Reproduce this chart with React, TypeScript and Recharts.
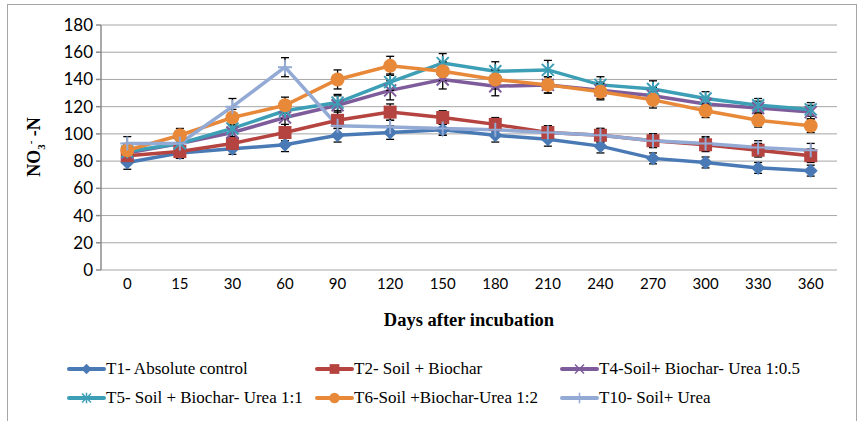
import React from 'react'
import { LineChart, Line, XAxis, YAxis, CartesianGrid, ErrorBar } from 'recharts'

const days = ['0', '15', '30', '60', '90', '120', '150', '180', '210', '240', '270', '300', '330', '360']

const t1 = [79, 86, 89, 92, 99, 101, 103, 99, 96, 91, 82, 79, 75, 73]
const t2 = [84, 87, 93, 101, 110, 116, 112, 107, 101, 99, 95, 92, 88, 84]
const t4 = [86, 93, 101, 112, 121, 132, 140, 135, 136, 132, 128, 122, 119, 116]
const t5 = [87, 93, 104, 117, 123, 138, 152, 146, 147, 136, 133, 126, 121, 118]
const t6 = [88, 99, 112, 121, 140, 150, 146, 140, 136, 131, 125, 117, 110, 106]
const t10 = [93, 93, 120, 149, 106, 105, 104, 103, 101, 99, 95, 93, 90, 88]

const e1 = [5, 4, 4, 5, 5, 5, 4, 5, 5, 5, 4, 4, 4, 4]
const e2 = [4, 5, 5, 6, 6, 6, 5, 5, 5, 5, 5, 5, 5, 5]
const e4 = [5, 5, 6, 7, 7, 7, 7, 7, 6, 6, 6, 5, 5, 5]
const e5 = [5, 5, 6, 6, 6, 6, 7, 7, 7, 6, 6, 5, 5, 5]
const e6 = [5, 5, 6, 6, 7, 7, 7, 7, 6, 6, 6, 5, 5, 5]
const e10 = [5, 5, 6, 7, 6, 5, 5, 5, 5, 5, 5, 5, 5, 5]

const data = days.map((d, i) => ({
  i, t1: t1[i], t2: t2[i], t4: t4[i], t5: t5[i], t6: t6[i], t10: t10[i],
  e1: e1[i], e2: e2[i], e4: e4[i], e5: e5[i], e6: e6[i], e10: e10[i],
}))

const idx = days.map((_, i) => i)
const edges = [...idx.map(i => i - 0.5), days.length - 0.5]
const yTicks = [0, 20, 40, 60, 80, 100, 120, 140, 160, 180]

const SERIF = '"Liberation Serif", "Times New Roman", Times, serif'
const SANS = 'Lato, "Liberation Sans", sans-serif'

const C = {
  t1: '#4a7ab5',
  t2: '#b5433f',
  t4: '#7e5c9b',
  t5: '#3d9fb6',
  t6: '#e8893a',
  t10: '#93aad5',
}

function Marker({ shape, cx, cy, color }: { shape: string; cx: number; cy: number; color: string }) {
  if (cx == null || cy == null) return null
  switch (shape) {
    case 'diamond':
      return <path d={`M${cx},${cy - 7}L${cx + 7},${cy}L${cx},${cy + 7}L${cx - 7},${cy}Z`} fill={color} />
    case 'square':
      return <rect x={cx - 6.5} y={cy - 6.5} width={13} height={13} fill={color} />
    case 'circle':
      return <circle cx={cx} cy={cy} r={7} fill={color} />
    case 'x':
      return <path d={`M${cx - 6},${cy - 6}L${cx + 6},${cy + 6}M${cx + 6},${cy - 6}L${cx - 6},${cy + 6}`} stroke={color} strokeWidth={2} />
    case 'star':
      return <path d={`M${cx - 6},${cy - 6}L${cx + 6},${cy + 6}M${cx + 6},${cy - 6}L${cx - 6},${cy + 6}M${cx},${cy - 7}L${cx},${cy + 7}`} stroke={color} strokeWidth={2} />
    case 'plus':
      return <path d={`M${cx - 7},${cy}L${cx + 7},${cy}M${cx},${cy - 7}L${cx},${cy + 7}`} stroke={color} strokeWidth={2} />
    default:
      return null
  }
}

const series = [
  { key: 't1', err: 'e1', name: 'T1- Absolute control', shape: 'diamond' },
  { key: 't2', err: 'e2', name: 'T2- Soil + Biochar', shape: 'square' },
  { key: 't4', err: 'e4', name: 'T4-Soil+ Biochar- Urea 1:0.5', shape: 'x' },
  { key: 't5', err: 'e5', name: 'T5- Soil + Biochar- Urea 1:1', shape: 'star' },
  { key: 't6', err: 'e6', name: 'T6-Soil +Biochar-Urea 1:2', shape: 'circle' },
  { key: 't10', err: 'e10', name: 'T10- Soil+ Urea', shape: 'plus' },
]

const YLabel = () => (
  <text
    transform="translate(40,147) rotate(-90)"
    textAnchor="middle"
    fontFamily={SERIF}
    fontWeight="bold"
    fontSize={18}
    fill="#000"
  >
    NO<tspan fontSize={11} dy={5}>3</tspan>
    <tspan fontSize={11} dy={-11}>-</tspan>
    <tspan dy={6}> -N</tspan>
  </text>
)

function LegendBox() {
  const cols = [67, 315, 560]
  const rows = [369, 398]
  return (
    <>
      {series.map((s, k) => {
        const color = (C as any)[s.key]
        return (
          <div
            key={s.key}
            style={{
              position: 'absolute',
              left: cols[k % 3],
              top: rows[Math.floor(k / 3)] - 10,
              height: 20,
              display: 'flex',
              alignItems: 'center',
              fontFamily: SERIF,
              fontSize: 17,
              color: '#000',
              whiteSpace: 'nowrap',
            }}
          >
            <svg width={39} height={20} style={{ display: 'block' }}>
              <line x1={2} y1={10} x2={37} y2={10} stroke={color} strokeWidth={4} strokeLinecap="round" />
              <g transform="translate(19.5,10) scale(0.75) translate(-19.5,-10)">
                <Marker shape={s.shape} cx={19.5} cy={10} color={color} />
              </g>
            </svg>
            <span>{s.name}</span>
          </div>
        )
      })}
    </>
  )
}

export default function App() {
  return (
    <div style={{ position: 'absolute', left: 0, top: 0, width: 859, height: 421, background: '#fff', overflow: 'hidden' }}>
      <div
        style={{
          position: 'absolute', left: 7, top: 4, width: 850, height: 430,
          border: '1.5px solid #a6a6a6', boxSizing: 'border-box',
        }}
      />
      <div style={{ position: 'absolute', left: 0, top: 0 }}>
        <LineChart width={859} height={421} data={data} margin={{ top: 25, right: 22, bottom: 121, left: 0 }}>
          <CartesianGrid horizontal vertical={false} stroke="#a6a6a6" strokeWidth={1} />
          <XAxis
            xAxisId="edges"
            type="number"
            dataKey="i"
            domain={[-0.5, days.length - 0.5]}
            ticks={edges}
            tick={false}
            tickSize={5}
            height={0}
            stroke="#8c8c8c"
            strokeWidth={1.5}
          />
          <XAxis
            xAxisId="main"
            type="number"
            dataKey="i"
            domain={[-0.5, days.length - 0.5]}
            ticks={idx}
            tickFormatter={(v: number) => days[v]}
            axisLine={false}
            tickLine={false}
            tickSize={5}
            tickMargin={3}
            height={30}
            tick={{ fill: '#000', fontSize: 15, fontFamily: SANS }}
            interval={0}
          />
          <YAxis
            domain={[0, 180]}
            ticks={yTicks}
            width={101}
            tickSize={5}
            tickMargin={3}
            stroke="#8c8c8c"
            strokeWidth={1.5}
            tick={{ fill: '#000', fontSize: 17, fontFamily: SANS }}
            interval={0}
            label={{ content: () => <YLabel /> }}
          />
          {series.map(s => (
            <Line
              key={s.key}
              xAxisId="main"
              dataKey={s.key}
              name={s.name}
              stroke={(C as any)[s.key]}
              strokeWidth={3.5}
              isAnimationActive={false}
              dot={(p: any) => <Marker key={`${s.key}-${p.index}`} shape={s.shape} cx={p.cx} cy={p.cy} color={(C as any)[s.key]} />}
              activeDot={false}
            >
              <ErrorBar dataKey={s.err} stroke="#000" strokeWidth={1.3} width={4} direction="y" />
            </Line>
          ))}
        </LineChart>
      </div>
      <div
        style={{
          position: 'absolute', left: 101, width: 736, top: 310, textAlign: 'center',
          fontFamily: SERIF, fontWeight: 'bold', fontSize: 18.5, color: '#000',
        }}
      >
        Days after incubation
      </div>
      <LegendBox />
    </div>
  )
}
